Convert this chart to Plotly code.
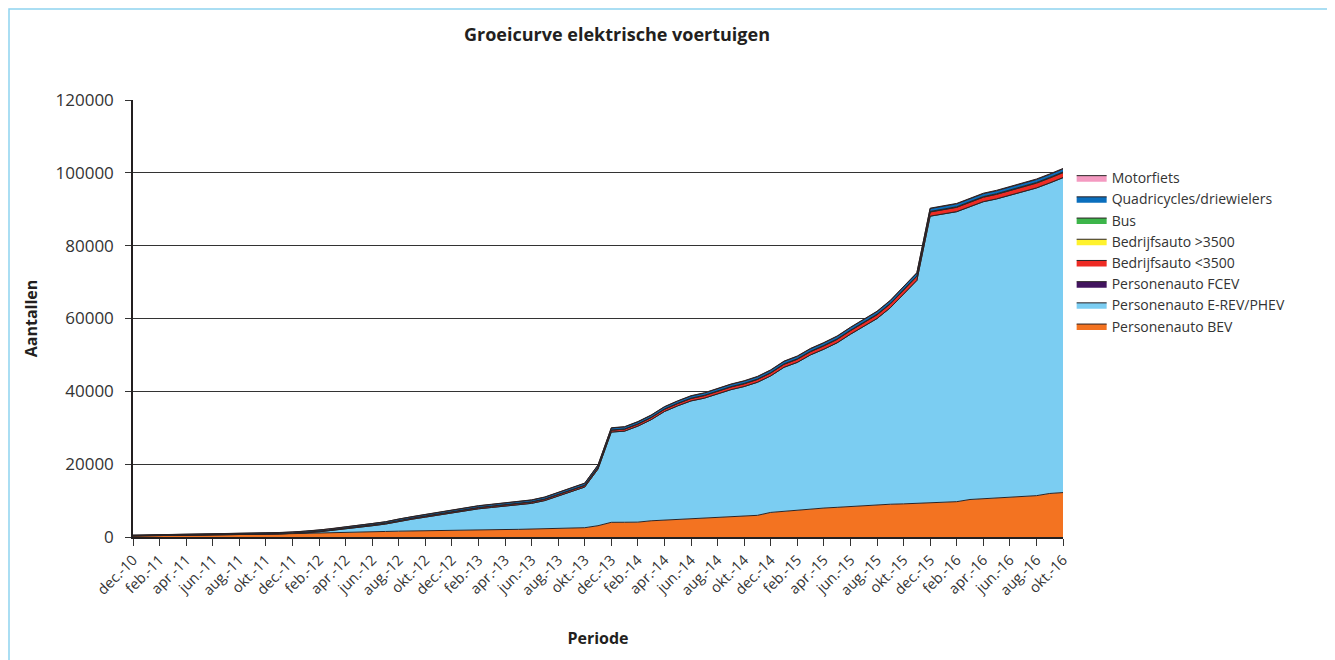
import plotly.graph_objects as go

# Maanden (dec. 2010 t/m okt. 2016)
MAANDEN = ['jan.', 'feb.', 'mrt.', 'apr.', 'mei', 'jun.', 'jul.', 'aug.', 'sep.', 'okt.', 'nov.', 'dec.']
periodes = ['dec.-10'] + [f'{m}-{j:02d}' for j in range(11, 17) for m in MAANDEN][:70]

bev = [300, 330, 370, 410, 450, 490, 540, 600, 660, 720, 780, 840,
       900, 980, 1100, 1200, 1300, 1380, 1450, 1520, 1600, 1680, 1750, 1800,
       1850, 1900, 1950, 2000, 2050, 2100, 2150, 2200, 2280, 2400, 2550, 3100,
       4030, 4050, 4080, 4450, 4650, 4850, 5100, 5200, 5400, 5750, 5850, 5950,
       6750, 7100, 7250, 7750, 7950, 8150, 8400, 8500, 8700, 9000, 9100, 9200,
       9300, 9450, 9700, 10300, 10550, 10750, 11000, 11100, 11350, 11950, 12200]

totaal = [420, 470, 520, 580, 630, 690, 740, 800, 860, 920, 990, 1060,
          1350, 1600, 1900, 2300, 2800, 3200, 3700, 4200, 5000, 5600, 6200, 6800,
          7500, 8100, 8600, 9000, 9400, 9800, 10200, 11000, 12200, 13400, 14800, 19800,
          30000, 30300, 31700, 33500, 35800, 37400, 38800, 39600, 40800, 42000, 42900, 44100,
          45900, 48300, 49700, 51800, 53400, 55200, 57600, 59800, 62000, 65000, 68800, 72600,
          90300, 91000, 91600, 93000, 94400, 95200, 96200, 97200, 98300, 99700, 101200]

fcev = [2] * 24 + [3, 3, 3, 4, 4, 4, 5, 5, 5, 6, 6, 6,
                   7, 7, 7, 8, 8, 8, 9, 9, 9, 10, 10, 10,
                   12, 12, 14, 14, 16, 16, 18, 18, 20, 20, 22, 22,
                   24, 26, 28, 30, 32, 34, 35, 36, 38, 39, 40]

bedrijf_lt = [60, 65, 70, 75, 80, 85, 90, 95, 100, 105, 110, 115,
              125, 135, 150, 165, 180, 195, 210, 225, 240, 255, 270, 285,
              300, 310, 320, 330, 340, 350, 360, 375, 390, 410, 430, 460,
              500, 520, 540, 560, 590, 620, 650, 680, 700, 720, 740, 760,
              790, 810, 840, 860, 890, 920, 950, 980, 1010, 1040, 1070, 1100,
              1130, 1150, 1170, 1190, 1210, 1230, 1250, 1270, 1290, 1310, 1330]

bedrijf_gt = [5, 5, 5, 6, 6, 6, 7, 7, 7, 8, 8, 8,
              9, 9, 10, 10, 11, 11, 12, 12, 13, 13, 14, 14,
              15, 16, 17, 18, 19, 20, 21, 22, 23, 24, 25, 26,
              27, 28, 29, 30, 31, 32, 33, 34, 35, 36, 37, 38,
              39, 40, 41, 42, 43, 44, 45, 46, 47, 48, 49, 50,
              51, 52, 53, 54, 55, 56, 57, 58, 59, 60, 60]

bus = [5, 5, 6, 6, 7, 7, 8, 8, 9, 9, 10, 10,
       11, 12, 13, 14, 15, 16, 17, 18, 19, 20, 22, 24,
       26, 28, 30, 32, 34, 36, 38, 40, 42, 44, 46, 48,
       50, 52, 54, 56, 58, 60, 62, 64, 66, 68, 70, 72,
       75, 78, 81, 84, 87, 90, 93, 96, 99, 102, 105, 108,
       111, 114, 117, 120, 123, 126, 129, 132, 135, 138, 140]

quadricycles = [120, 130, 140, 150, 160, 170, 180, 190, 200, 210, 220, 230,
                240, 250, 265, 280, 295, 310, 325, 340, 355, 370, 385, 400,
                410, 420, 430, 440, 450, 460, 470, 480, 490, 500, 510, 520,
                530, 540, 550, 560, 570, 580, 590, 600, 610, 620, 630, 640,
                650, 660, 670, 680, 690, 700, 710, 720, 730, 740, 750, 760,
                770, 775, 780, 785, 790, 795, 800, 805, 810, 815, 820]

motorfiets = [20, 20, 22, 22, 24, 24, 26, 26, 28, 28, 30, 30,
              32, 34, 36, 38, 40, 42, 44, 46, 48, 50, 52, 54,
              56, 58, 60, 62, 64, 66, 68, 70, 72, 74, 76, 78,
              80, 82, 84, 86, 88, 90, 92, 94, 96, 98, 100, 102,
              104, 106, 108, 110, 112, 114, 116, 118, 120, 122, 124, 126,
              128, 130, 132, 134, 136, 138, 140, 142, 144, 146, 148]

y_ticks = [0, 20000, 40000, 60000, 80000, 100000, 120000]

# PHEV = totaal minus alle overige categorieën
overig = [b + f + l + g + s + q + m for b, f, l, g, s, q, m in
          zip(bev, fcev, bedrijf_lt, bedrijf_gt, bus, quadricycles, motorfiets)]
phev = [max(t - o, 0) for t, o in zip(totaal, overig)]

series = [
    ('Personenauto BEV', bev, '#f37321'),
    ('Personenauto E-REV/PHEV', phev, '#7bcdf2'),
    ('Personenauto FCEV', fcev, '#42145f'),
    ('Bedrijfsauto <3500', bedrijf_lt, '#ee2b24'),
    ('Bedrijfsauto >3500', bedrijf_gt, '#fff22d'),
    ('Bus', bus, '#3db54a'),
    ('Quadricycles/driewielers', quadricycles, '#0a6ebd'),
    ('Motorfiets', motorfiets, '#f49ac1'),
]

fig = go.Figure()

for naam, waarden, kleur in series:
    fig.add_trace(go.Scatter(
        x=periodes,
        y=waarden,
        name=naam,
        mode='lines',
        stackgroup='een',
        fillcolor=kleur,
        line=dict(color='#2b2325', width=1),
        hoverinfo='x+y+name'
    ))

font = 'Open Sans, Lato, sans-serif'

# De pagina heeft 8px body-marge, dus figuur iets kleiner dan het venster
W, H = 1327, 652
links, boven, rechts, onder = 125, 92, 1055, 529

fig.update_xaxes(
    type='category',
    range=[0, 70],
    automargin=False,
    tickmode='array',
    tickvals=periodes[::2],
    ticktext=periodes[::2],
    tickangle=-45,
    tickfont=dict(size=14.5, color='#333333', family=font),
    ticks='outside',
    ticklen=7,
    tickcolor='#333333',
    showline=True,
    linecolor='#231f20',
    linewidth=1.5,
    showgrid=False,
    title=dict(text='<b>Periode</b>', font=dict(size=16, color='#231f20', family=font), standoff=35)
)

fig.update_yaxes(
    range=[0, 120000],
    automargin=False,
    tickmode='array',
    tickvals=y_ticks,
    ticktext=[str(v) for v in y_ticks],
    tickfont=dict(size=17, color='#333333', family=font),
    ticks='outside',
    ticklen=6,
    ticklabelstandoff=8,
    tickcolor='#333333',
    showline=True,
    linecolor='#231f20',
    linewidth=1.5,
    showgrid=True,
    gridcolor='#333333',
    gridwidth=1,
    zeroline=False,
    title=dict(text='<b>Aantallen</b>', font=dict(size=16, color='#231f20', family=font), standoff=14)
)

fig.update_layout(
    width=W,
    height=H,
    plot_bgcolor='white',
    paper_bgcolor='white',
    title=dict(
        text='<b>Groeicurve elektrische voertuigen</b>',
        x=609 / W,
        xanchor='center',
        y=1 - 27 / H,
        yanchor='middle',
        font=dict(size=18, color='#231f20', family=font)
    ),
    legend=dict(
        x=1.0093,
        y=0.858,
        xanchor='left',
        yanchor='top',
        traceorder='reversed',
        font=dict(size=14, color='#333333', family=font),
        bgcolor='rgba(0,0,0,0)'
    ),
    margin=dict(l=links, r=W - rechts, t=boven, b=H - onder),
    shapes=[dict(
        type='rect', xref='paper', yref='paper',
        x0=(1 - links) / (rechts - links), x1=(1320 - links) / (rechts - links),
        y0=-0.35, y1=(onder - 1) / (onder - boven),
        line=dict(color='#8fd3f0', width=1.5),
        layer='below'
    )]
)

fig.write_html('out.html')
